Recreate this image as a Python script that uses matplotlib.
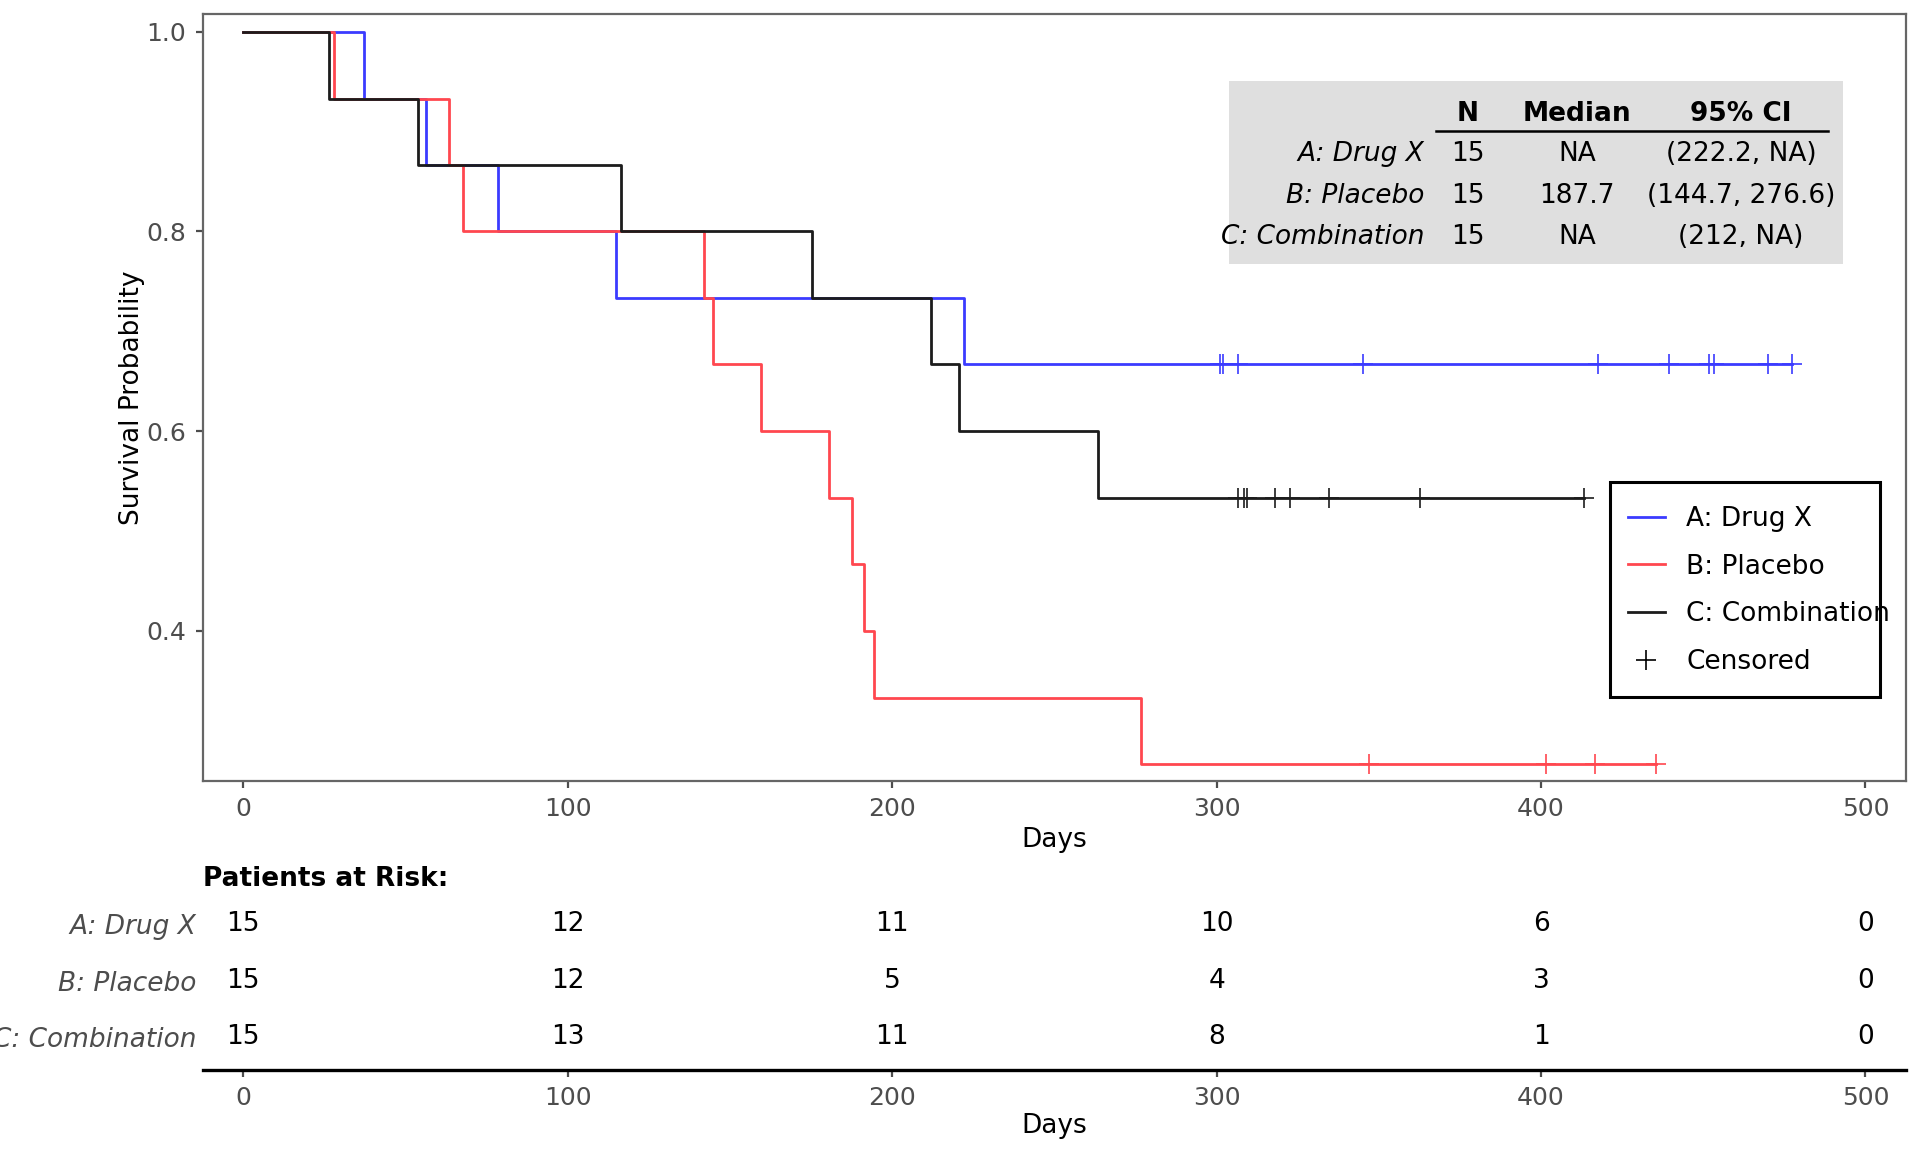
import numpy as np
import matplotlib.pyplot as plt
from matplotlib.lines import Line2D
from matplotlib.patches import Rectangle

# groups and colours
groups = ['A: Drug X', 'B: Placebo', 'C: Combination']
colors = ['#3b3bff', '#ff474f', '#1c1c1c']

# Kaplan-Meier steps: time, survival after step
drug_t = [0, 37.3, 56.3, 78.5, 115.0, 222.2, 477.5]
drug_s = [1.0, 0.933, 0.867, 0.8, 0.733, 0.667, 0.667]
placebo_t = [0, 27.9, 63.5, 67.8, 142.0, 144.7, 159.5, 180.4, 187.7, 191.4, 194.4, 276.6, 435.5]
placebo_s = [1.0, 0.933, 0.867, 0.8, 0.733, 0.667, 0.6, 0.533, 0.467, 0.4, 0.333, 0.267, 0.267]
combo_t = [0, 26.4, 53.9, 116.3, 175.2, 212.0, 220.6, 263.5, 413.3]
combo_s = [1.0, 0.933, 0.867, 0.8, 0.733, 0.667, 0.6, 0.533, 0.533]

# censored times
drug_cens = [300.9, 301.9, 306.6, 345.0, 417.7, 439.5, 451.8, 453.2, 470.0, 477.5]
placebo_cens = [347.0, 401.6, 416.7, 435.5]
combo_cens = [306.7, 308.4, 309.4, 318.1, 322.5, 334.6, 362.7, 413.3]

# numbers at risk
risk_times = [0, 100, 200, 300, 400, 500]
risk_drug = [15, 12, 11, 10, 6, 0]
risk_placebo = [15, 12, 5, 4, 3, 0]
risk_combo = [15, 13, 11, 8, 1, 0]

# summary table
tab_n = [15, 15, 15]
tab_median = ['NA', '187.7', 'NA']
tab_ci = ['(222.2, NA)', '(144.7, 276.6)', '(212, NA)']

curves = [(drug_t, drug_s, drug_cens), (placebo_t, placebo_s, placebo_cens),
          (combo_t, combo_s, combo_cens)]
risks = [risk_drug, risk_placebo, risk_combo]

tick_grey = '#4d4d4d'
fs = 9.5

fig = plt.figure(figsize=(9.6, 5.76), dpi=200)
ax = fig.add_axes([0.1056, 0.3220, 0.8871, 0.6658])

for (t, s, c), col, lab in zip(curves, colors, groups):
    ax.step(t, s, where='post', color=col, lw=1.0, label=lab, zorder=3)
    idx = np.searchsorted(t, c, side='right') - 1
    cy = np.array(s)[idx]
    ax.plot(c, cy, linestyle='None', marker='+', color=col, markersize=7.2,
            mew=0.6, zorder=4)

ax.set_xlim(-12.5, 512.5)
ax.set_ylim(0.2495, 1.0177)
ax.set_xticks(risk_times)
ax.set_yticks([0.4, 0.6, 0.8, 1.0])
ax.set_yticklabels(['0.4', '0.6', '0.8', '1.0'])
ax.tick_params(labelsize=9, colors=tick_grey, length=2.4, width=0.8)
ax.set_xlabel('Days', fontsize=fs, labelpad=2)
ax.set_ylabel('Survival Probability', fontsize=fs, labelpad=0.5)
for sp in ax.spines.values():
    sp.set_color('#666666')
    sp.set_linewidth(0.8)

# summary table in the corner
ax.add_patch(Rectangle((0.6025, 0.6741), 0.3605, 0.2385, transform=ax.transAxes,
                       facecolor='#dfdfdf', edgecolor='none', zorder=5))
hy = 0.8700
ax.text(0.7428, hy, 'N', transform=ax.transAxes, ha='center', va='center',
        fontsize=fs, fontweight='bold', zorder=6)
ax.text(0.8068, hy, 'Median', transform=ax.transAxes, ha='center', va='center',
        fontsize=fs, fontweight='bold', zorder=6)
ax.text(0.9031, hy, '95% CI', transform=ax.transAxes, ha='center', va='center',
        fontsize=fs, fontweight='bold', zorder=6)
ax.plot([0.7239, 0.9543], [0.8478, 0.8478], transform=ax.transAxes,
        color='black', lw=0.9, zorder=6)
row_y = [0.8176, 0.7633, 0.7090]
for i in range(3):
    ax.text(0.7174, row_y[i], groups[i], transform=ax.transAxes, ha='right',
            va='center', fontsize=fs, style='italic', zorder=6)
    ax.text(0.7428, row_y[i], str(tab_n[i]), transform=ax.transAxes,
            ha='center', va='center', fontsize=fs, zorder=6)
    ax.text(0.8068, row_y[i], tab_median[i], transform=ax.transAxes,
            ha='center', va='center', fontsize=fs, zorder=6)
    ax.text(0.9031, row_y[i], tab_ci[i], transform=ax.transAxes,
            ha='center', va='center', fontsize=fs, zorder=6)

# legend: frame drawn separately (the reference box is narrower than its text)
ax.add_patch(Rectangle((0.8262, 0.1099), 0.1585, 0.2803, transform=ax.transAxes,
                       facecolor='white', edgecolor='black', lw=1.1, zorder=7))
handles = [Line2D([], [], color=c, lw=1.0) for c in colors]
handles.append(Line2D([], [], color='black', marker='+', linestyle='None',
                      markersize=7.2, mew=0.6))
leg = ax.legend(handles, groups + ['Censored'], loc='upper left',
                bbox_to_anchor=(0.8368, 0.3585), borderaxespad=0, borderpad=0,
                fontsize=fs, frameon=False, handlelength=1.4, labelspacing=0.82)
leg.set_zorder(8)

# risk table
axr = fig.add_axes([0.1056, 0.0712, 0.8871, 0.1493])
axr.set_xlim(-12.5, 512.5)
axr.set_ylim(2.58, -0.47)
for i, r in enumerate(risks):
    for x, n in zip(risk_times, r):
        axr.text(x, i, str(n), ha='center', va='center', fontsize=fs)
axr.set_yticks([0, 1, 2])
axr.set_yticklabels(groups, fontsize=fs, style='italic', color=tick_grey)
axr.tick_params(axis='y', length=0, pad=2.4)
axr.set_xticks(risk_times)
axr.tick_params(axis='x', labelsize=9, colors=tick_grey, length=2.4, width=0.8)
for k in ['top', 'left', 'right']:
    axr.spines[k].set_visible(False)
axr.spines['bottom'].set_color('black')
axr.spines['bottom'].set_linewidth(1.2)
axr.set_xlabel('Days', fontsize=fs, labelpad=1)
axr.set_title('Patients at Risk:', loc='left', fontsize=fs, fontweight='bold', pad=4.2)

fig.savefig('out.png', dpi=200)
